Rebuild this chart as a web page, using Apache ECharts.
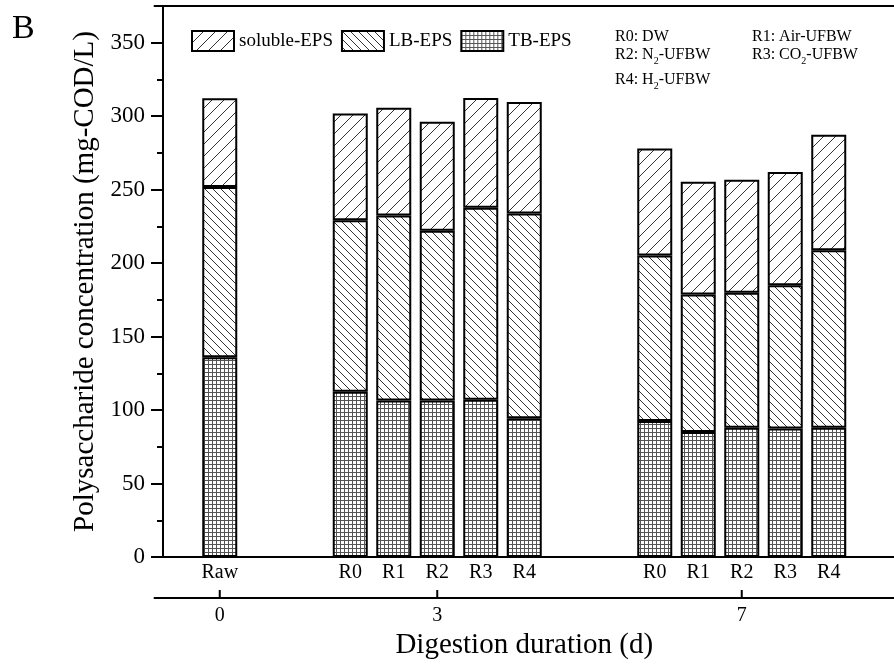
<!DOCTYPE html>
<html>
<head>
<meta charset="utf-8">
<script src="https://cdn.jsdelivr.net/npm/echarts@6/dist/echarts.min.js"></script>
<style>
  html, body { margin: 0; padding: 0; background: #fff; }
  #chart { width: 894px; height: 666px; }
</style>
</head>
<body>
<div id="chart"></div>
<script>
// categories ('' = gap between groups)
const categories = ['', 'Raw', '', '', 'R0', 'R1', 'R2', 'R3', 'R4', '', '', 'R0', 'R1', 'R2', 'R3', 'R4', ''];
const dayLabels = ['', '0', '', '', '', '', '3', '', '', '', '', '', '', '7', '', '', ''];

// stacked segments, mg-COD/L
const tbEps = ['-', 136, '-', '-', 112.5, 106.5, 106.5, 107, 94.5, '-', '-', 92.5, 85, 88, 87.5, 88, '-'];
const lbEps = ['-', 115.8, '-', '-', 116.7, 126, 115.5, 130.7, 139.3, '-', '-', 112.7, 93.6, 91.8, 97.4, 120.8, '-'];
const solubleEps = ['-', 60.4, '-', '-', 72.6, 73.3, 74.3, 74.7, 75.9, '-', '-', 72.9, 76.8, 77, 77.1, 78.6, '-'];

const yMajorTicks = [0, 50, 100, 150, 200, 250, 300, 350];
const yMinorTicks = [25, 75, 125, 175, 225, 275, 325];

const FONT = '"Liberation Serif", "Times New Roman", serif';
const DAY_AXIS_OFFSET = 41;

// day axis is a value axis over the same slots: slot i has its centre at i + 0.5
const dayTickIdx = dayLabels.map((d, i) => (d ? i : -1)).filter((i) => i >= 0);
const dayTickPos = dayTickIdx.map((i) => i + 0.5);

// hatch fills
function makePattern(kind) {
  const c = document.createElement('canvas');
  const ctx = c.getContext('2d');
  let s = 12;
  if (kind === 'back') s = 8;
  if (kind === 'grid') s = 4;
  c.width = s;
  c.height = s;
  ctx.fillStyle = '#fff';
  ctx.fillRect(0, 0, s, s);
  ctx.strokeStyle = '#333';
  ctx.lineWidth = 1;
  ctx.beginPath();
  if (kind === 'slash') {
    ctx.moveTo(0, s); ctx.lineTo(s, 0);
    ctx.moveTo(-1, 1); ctx.lineTo(1, -1);
    ctx.moveTo(s - 1, s + 1); ctx.lineTo(s + 1, s - 1);
  } else if (kind === 'back') {
    ctx.moveTo(0, 0); ctx.lineTo(s, s);
    ctx.moveTo(s - 1, -1); ctx.lineTo(s + 1, 1);
    ctx.moveTo(-1, s - 1); ctx.lineTo(1, s + 1);
  } else {
    ctx.strokeStyle = '#555';
    ctx.moveTo(0.5, 0); ctx.lineTo(0.5, s);
    ctx.moveTo(0, 0.5); ctx.lineTo(s, 0.5);
  }
  ctx.stroke();
  return { image: c, repeat: 'repeat' };
}

const chart = echarts.init(document.getElementById('chart'), null, { renderer: 'canvas' });

const barStyle = (kind) => ({
  color: makePattern(kind),
  borderColor: '#000',
  borderWidth: 2
});

const axisLine = { show: true, onZero: false, lineStyle: { color: '#000', width: 2 } };
const subRich = {
  a: { fontFamily: FONT, fontSize: 16, verticalAlign: 'top' },
  s: { fontFamily: FONT, fontSize: 10, padding: [9, 0, 0, 0] }
};

const notes = [
  { type: 'text', left: 615, top: 29, style: { text: 'R0: DW', font: '16px ' + FONT, fill: '#000' } },
  { type: 'text', left: 752, top: 29, style: { text: 'R1: Air-UFBW', font: '16px ' + FONT, fill: '#000' } },
  { type: 'text', left: 615, top: 47, style: { text: '{a|R2: N}{s|2}{a|-UFBW}', rich: subRich, fill: '#000' } },
  { type: 'text', left: 752, top: 47, style: { text: '{a|R3: CO}{s|2}{a|-UFBW}', rich: subRich, fill: '#000' } },
  { type: 'text', left: 615, top: 72, style: { text: '{a|R4: H}{s|2}{a|-UFBW}', rich: subRich, fill: '#000' } }
];

chart.setOption({
  animation: false,
  backgroundColor: '#fff',
  title: {
    text: 'B',
    left: 7,
    top: 7,
    textStyle: { fontFamily: FONT, fontSize: 34, fontWeight: 'normal', color: '#000' }
  },
  legend: {
    left: 186,
    top: 25,
    icon: 'rect',
    itemWidth: 42,
    itemHeight: 20,
    itemGap: 8,
    data: ['soluble-EPS', 'LB-EPS', 'TB-EPS'],
    textStyle: { fontFamily: FONT, fontSize: 19, color: '#000' }
  },
  grid: { left: 154.5, right: -8.5, top: 6, bottom: 109 },
  xAxis: [
    {
      type: 'category',
      data: categories,
      position: 'bottom',
      axisLine: axisLine,
      axisTick: { show: false },
      axisLabel: { interval: 0, margin: 6, fontFamily: FONT, fontSize: 20, color: '#000' }
    },
    {
      type: 'value',
      min: 0,
      max: categories.length,
      position: 'bottom',
      offset: DAY_AXIS_OFFSET,
      axisLine: axisLine,
      splitLine: { show: false },
      axisTick: { show: false },
      axisLabel: {
        customValues: dayTickPos,
        formatter: (v) => dayLabels[Math.floor(v)],
        margin: 8,
        fontFamily: FONT,
        fontSize: 20,
        color: '#000'
      },
      name: 'Digestion duration (d)',
      nameLocation: 'middle',
      nameGap: 27,
      nameTextStyle: { fontFamily: FONT, fontSize: 29, color: '#000' }
    },
    {
      type: 'category',
      data: categories,
      position: 'top',
      axisLine: axisLine,
      axisTick: { show: false },
      axisLabel: { show: false }
    }
  ],
  yAxis: [
    {
      type: 'value',
      min: 0,
      max: 375,
      position: 'left',
      offset: -8.5,
      axisLine: axisLine,
      axisTick: { show: true, length: 12, customValues: yMajorTicks, lineStyle: { color: '#000', width: 2 } },
      axisLabel: { customValues: yMajorTicks, margin: 18, fontFamily: FONT, fontSize: 23, color: '#000' },
      splitLine: { show: false },
      name: 'Polysaccharide concentration (mg-COD/L)',
      nameLocation: 'middle',
      nameGap: 60,
      nameTextStyle: { fontFamily: FONT, fontSize: 29, color: '#000' }
    },
    {
      type: 'value',
      min: 0,
      max: 375,
      position: 'left',
      offset: -8.5,
      axisLine: { show: false },
      axisTick: { show: true, length: 6, customValues: yMinorTicks, lineStyle: { color: '#000', width: 2 } },
      axisLabel: { show: false },
      splitLine: { show: false }
    }
  ],
  graphic: notes,
  series: [
    { name: 'TB-EPS', type: 'bar', stack: 'eps', barWidth: 35, data: tbEps, itemStyle: barStyle('grid') },
    { name: 'LB-EPS', type: 'bar', stack: 'eps', barWidth: 35, data: lbEps, itemStyle: barStyle('back') },
    { name: 'soluble-EPS', type: 'bar', stack: 'eps', barWidth: 35, data: solubleEps, itemStyle: barStyle('slash') }
  ]
});

// upward ticks on the day axis, placed through the chart's own scales
const dayAxisY = chart.convertToPixel({ yAxisIndex: 0 }, 0) + DAY_AXIS_OFFSET;
const dayTicks = dayTickIdx.map((i) => {
  const x = chart.convertToPixel({ xAxisIndex: 0 }, i);
  return {
    type: 'line',
    shape: { x1: x, y1: dayAxisY, x2: x, y2: dayAxisY - 8 },
    style: { stroke: '#000', lineWidth: 2 }
  };
});
chart.setOption({ graphic: notes.concat(dayTicks) });
</script>
</body>
</html>
